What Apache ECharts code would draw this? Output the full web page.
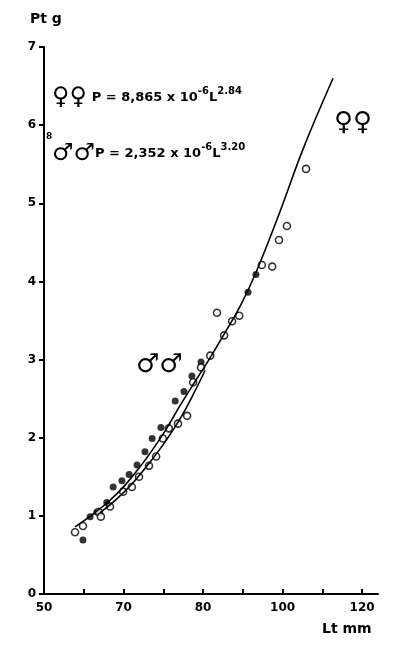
<!DOCTYPE html><html><head><meta charset="utf-8"><script src="https://cdn.jsdelivr.net/npm/echarts@6/dist/echarts.min.js"></script></head><body style="margin:0;background:#fff"><div id="c" style="width:400px;height:651px"></div><script>
const xTickLabels={50:'50',70:'70',90:'80',110:'100',130:'120'};
const femaleX=[59.8,61.6,63.3,65.8,67.4,69.6,71.4,73.4,75.4,77.2,79.4,83.0,85.2,87.2,89.5,101.3,103.3];
const femaleY=[0.69,0.99,1.05,1.17,1.37,1.45,1.53,1.65,1.82,1.99,2.13,2.47,2.59,2.79,2.97,3.86,4.09];
const maleX=[57.8,59.8,63.8,64.3,66.6,69.9,72.1,73.9,76.4,78.2,79.9,81.4,83.7,86.0,87.5,89.5,91.8,93.5,95.3,97.3,99.1,104.8,107.4,109.1,111.1,115.9];
const maleY=[0.79,0.87,1.05,0.99,1.12,1.31,1.37,1.50,1.64,1.76,1.99,2.12,2.18,2.28,2.71,2.90,3.05,3.60,3.31,3.49,3.56,4.21,4.19,4.53,4.71,5.44];
const curveFX=[57.8,62.0,66.6,70.5,74.2,77.5,80.5,84.2,88.0,91.5,95.0,99.5,103.6,109.4,115.2,122.7];
const curveFY=[0.86,1.01,1.20,1.40,1.63,1.86,2.09,2.41,2.72,3.00,3.30,3.70,4.15,4.90,5.70,6.60];
const curveMX=[64.1,68.4,72.5,76.7,80.5,84.2,87.5,90.5];
const curveMY=[1.04,1.22,1.43,1.69,1.95,2.24,2.55,2.86];
const z=(a,b)=>a.map((v,i)=>[v,b[i]]);
const ch=echarts.init(document.getElementById('c'));
const F='"DejaVu Sans",sans-serif';
ch.setOption({animation:false,
grid:{left:44,right:22,top:47,bottom:57},
xAxis:{type:'value',min:50,max:134,interval:10,axisLine:{lineStyle:{color:'#000',width:2}},axisTick:{inside:true,length:5,lineStyle:{color:'#000',width:2}},splitLine:{show:false},
 axisLabel:{color:'#000',fontWeight:'bold',fontFamily:F,fontSize:12,showMaxLabel:false,formatter:v=>xTickLabels[v]||''}},
yAxis:{type:'value',min:0,max:7,interval:1,axisLine:{show:true,lineStyle:{color:'#000',width:2}},axisTick:{show:true,length:5,lineStyle:{color:'#000',width:2}},splitLine:{show:false},
 axisLabel:{color:'#000',fontWeight:'bold',fontFamily:F,fontSize:12}},
series:[
{type:'line',data:z(curveFX,curveFY),smooth:0.4,symbol:'none',lineStyle:{color:'#000',width:1.6}},
{type:'line',data:z(curveMX,curveMY),smooth:0.4,symbol:'none',lineStyle:{color:'#000',width:1.6}},
{type:'scatter',data:z(femaleX,femaleY),symbol:'circle',symbolSize:7,itemStyle:{color:'#000'}},
{type:'scatter',data:z(maleX,maleY),symbol:'circle',symbolSize:7,itemStyle:{color:'#fff',borderColor:'#000',borderWidth:1.6}}
],
graphic:[
{type:'text',left:30,top:12,style:{text:'Pt g',font:'bold 14px '+F,fill:'#000'}},
{type:'text',left:322,top:622,style:{text:'Lt mm',font:'bold 14px '+F,fill:'#000'}},
{type:'text',left:52,top:86,style:{rich:{s:{font:'bold 24px '+F,fill:'#000'},t:{font:'bold 13px '+F,fill:'#000'},u:{font:'bold 10px '+F,fill:'#000',verticalAlign:'top',padding:[0,0,10,0]}},text:'{s|♀♀}{t| P = 8,865 x 10}{u|-6}{t|L}{u|2.84}'}},
{type:'text',left:52,top:142,style:{rich:{s:{font:'bold 24px '+F,fill:'#000'},t:{font:'bold 13px '+F,fill:'#000'},u:{font:'bold 10px '+F,fill:'#000',verticalAlign:'top',padding:[0,0,10,0]}},text:'{s|♂♂}{t|P = 2,352 x 10}{u|-6}{t|L}{u|3.20}'}},
{type:'text',left:46,top:132,style:{text:'8',font:'bold 9px '+F,fill:'#000'}},
{type:'text',left:334,top:110,style:{text:'♀♀',font:'bold 26px '+F,fill:'#000'}},
{type:'text',left:136,top:352,style:{text:'♂♂',font:'bold 26px '+F,fill:'#000'}}
]});
</script></body></html>
